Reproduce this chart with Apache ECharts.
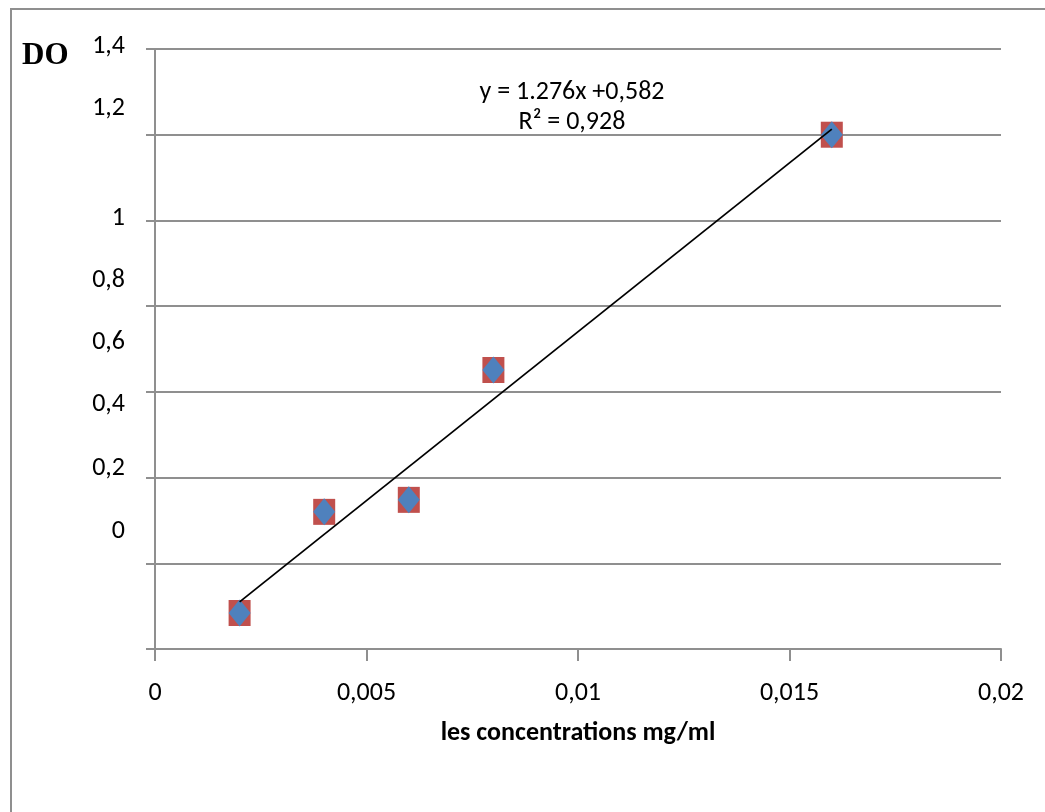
<!DOCTYPE html>
<html>
<head>
<meta charset="utf-8">
<script src="https://cdn.jsdelivr.net/npm/echarts@6/dist/echarts.min.js"></script>
<style>
  html, body { margin: 0; padding: 0; background: #fff; }
  #chart { width: 1045px; height: 812px; }
</style>
</head>
<body>
<div id="chart"></div>
<script>
// donnees
const concentrations = [0.002, 0.004, 0.006, 0.008, 0.016];
const doValues = [0.084, 0.32, 0.348, 0.651, 1.2];
// droite de tendance (extremites lues)
const trendX = [0.002, 0.016];
const trendY = [0.11, 1.213];
const yTickLabels = ['0', '0,2', '0,4', '0,6', '0,8', '1', '1,2', '1,4'];
const xTickLabels = ['0', '0,005', '0,01', '0,015', '0,02'];

// decalage vertical des etiquettes (comme dans l'original)
const yLabelShift = [118, 95, 73, 49, 26, 2, 26, 3];

const FONT = 'Carlito, Lato, sans-serif';
const GRID_COLOR = '#8f8f8f';

let rich = {};
yLabelShift.forEach((d, i) => {
	rich['s' + i] = {
		fontFamily: FONT,
		fontSize: 26,
		color: '#000',
		padding: [0, 0, 2 * d, 0]
	};
});

let chart = echarts.init(document.getElementById('chart'));

let option = {
	backgroundColor: '#fff',
	animation: false,
	grid: {
		left: 155,
		right: 44,
		top: 49,
		bottom: 163,
		containLabel: false
	},
	xAxis: {
		type: 'value',
		min: 0,
		max: 0.02,
		interval: 0.005,
		name: 'les concentrations mg/ml',
		nameLocation: 'middle',
		nameGap: 71,
		nameTextStyle: {
			fontFamily: FONT,
			fontSize: 26,
			fontWeight: 'bold',
			color: '#000'
		},
		axisLine: { show: true, lineStyle: { color: GRID_COLOR, width: 2 } },
		axisTick: { show: true, length: 12, lineStyle: { color: GRID_COLOR, width: 2 } },
		axisLabel: {
			margin: 31,
			fontFamily: FONT,
			fontSize: 26,
			color: '#000',
			formatter: (v) => xTickLabels[Math.round(v / 0.005)]
		},
		splitLine: { show: false }
	},
	yAxis: {
		type: 'value',
		min: 0,
		max: 1.4,
		interval: 0.2,
		axisLine: { show: true, lineStyle: { color: GRID_COLOR, width: 2 } },
		axisTick: { show: true, length: 9, lineStyle: { color: GRID_COLOR, width: 2 } },
		axisLabel: {
			margin: 30,
			rich: rich,
			formatter: (v) => {
				let i = Math.round(v / 0.2);
				return '{s' + i + '|' + yTickLabels[i] + '}';
			}
		},
		splitLine: { show: true, lineStyle: { color: GRID_COLOR, width: 2 } }
	},
	graphic: [
		{
			type: 'rect',
			silent: true,
			shape: { x: 11, y: 9, width: 1200, height: 1000 },
			style: { fill: 'none', stroke: GRID_COLOR, lineWidth: 2 }
		},
		{
			type: 'text',
			left: 22,
			top: 40,
			style: {
				text: 'DO',
				font: 'bold 31px "Liberation Serif", serif',
				fill: '#000'
			}
		},
		{
			type: 'text',
			x: 572,
			y: 92,
			style: {
				text: 'y = 1.276x +0,582',
				fontFamily: FONT,
				fontSize: 26,
				fill: '#000',
				align: 'center',
				verticalAlign: 'middle'
			}
		},
		{
			type: 'text',
			x: 572,
			y: 122,
			style: {
				text: 'R² = 0,928',
				fontFamily: FONT,
				fontSize: 26,
				fill: '#000',
				align: 'center',
				verticalAlign: 'middle'
			}
		}
	],
	series: [
		{
			type: 'scatter',
			symbol: 'rect',
			symbolSize: [22, 26],
			itemStyle: { color: '#c0504d', opacity: 1 },
			data: concentrations.map((x, i) => [x, doValues[i]]),
			z: 2
		},
		{
			type: 'scatter',
			symbol: 'diamond',
			symbolSize: [22, 27],
			itemStyle: { color: '#4f81bd', opacity: 1 },
			data: concentrations.map((x, i) => [x, doValues[i]]),
			z: 3
		},
		{
			type: 'line',
			symbol: 'none',
			lineStyle: { color: '#000', width: 1.8 },
			data: trendX.map((x, i) => [x, trendY[i]]),
			z: 4
		}
	]
};

chart.setOption(option);
</script>
</body>
</html>
